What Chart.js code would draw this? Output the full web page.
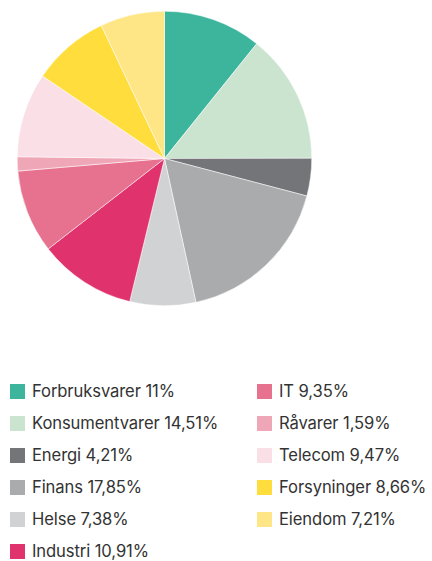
<!DOCTYPE html>
<html>
<head>
<meta charset="utf-8">
<script src="https://cdn.jsdelivr.net/npm/chart.js@4"></script>
<style>
  html, body { margin: 0; padding: 0; background: #fff; }
  #wrap { position: relative; width: 432px; height: 561px; overflow: hidden; }
  #pieBox { position: absolute; left: 17px; top: 11px; width: 295px; height: 295px; }
  .legend-item { position: absolute; display: flex; align-items: center; height: 20px;
    font-family: Inter, "Noto Sans", sans-serif; font-size: 16.6px; font-weight: 400;
    letter-spacing: -0.1px; color: #333333; white-space: nowrap; }
  .legend-item span.box { display: inline-block; width: 15px; height: 15px; margin-right: 7px; }
</style>
</head>
<body>
<div id="wrap">
  <div id="pieBox"><canvas id="pieChart"></canvas></div>
  <div id="legend"></div>
</div>
<script>
const sectors = ['Forbruksvarer', 'Konsumentvarer', 'Energi', 'Finans', 'Helse', 'Industri',
  'IT', 'Råvarer', 'Telecom', 'Forsyninger', 'Eiendom'];
const shares = [11, 14.51, 4.21, 17.85, 7.38, 10.91, 9.35, 1.59, 9.47, 8.66, 7.21];
const shareLabels = ['11%', '14,51%', '4,21%', '17,85%', '7,38%', '10,91%',
  '9,35%', '1,59%', '9,47%', '8,66%', '7,21%'];
const sectorColors = ['#3db59d', '#cbe4d0', '#737579', '#aaabad', '#d1d2d4', '#e0336e',
  '#e7728f', '#efa6b6', '#fbdfe6', '#fedd3d', '#fee585'];

const ctx = document.getElementById('pieChart').getContext('2d');
const pieChart = new Chart(ctx, {
  type: 'pie',
  data: {
    labels: sectors,
    datasets: [{
      data: shares,
      backgroundColor: sectorColors,
      borderColor: '#ffffff',
      borderWidth: 0.5
    }]
  },
  options: {
    responsive: true,
    maintainAspectRatio: false,
    animation: false,
    layout: { padding: 0 },
    plugins: {
      legend: { display: false },
      tooltip: { enabled: false }
    }
  }
});

// legend in two columns, 6 rows in the first
const legend = document.getElementById('legend');
sectors.forEach((name, i) => {
  const col = i < 6 ? 0 : 1;
  const row = i < 6 ? i : i - 6;
  const item = document.createElement('div');
  item.className = 'legend-item';
  item.style.left = (col === 0 ? 10 : 257) + 'px';
  item.style.top = (381 + row * 32) + 'px';
  item.innerHTML = `<span class="box" style="background:${sectorColors[i]}"></span>${name} ${shareLabels[i]}`;
  legend.appendChild(item);
});
</script>
</body>
</html>
